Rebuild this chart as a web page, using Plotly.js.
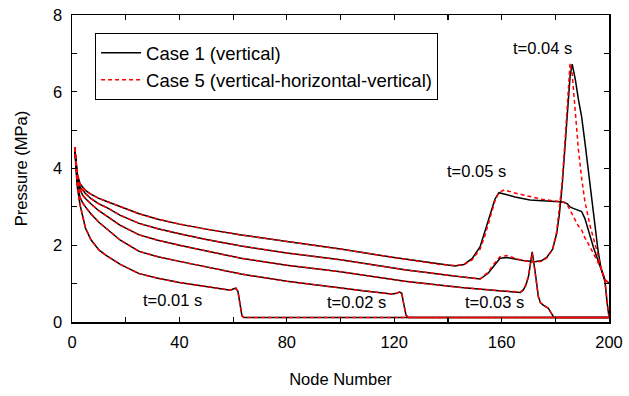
<!DOCTYPE html>
<html>
<head>
<meta charset="utf-8">
<script src="https://cdn.plot.ly/plotly-3.0.1.min.js"></script>
<style>
  html, body { margin: 0; padding: 0; background: #fff; }
  #chart { width: 629px; height: 396px; }
</style>
</head>
<body>
<div id="chart"></div>
<script>
// Pressure profiles along the pipe at five instants, two cases.
// Case 1 = vertical pipe (solid black), Case 5 = vertical-horizontal-vertical (dashed red).

const nodes01 = [1,1.5,2,3,4,5,7,10,13,18,25,32,40,50,56,59,60,61,61.8,62.5,63.3,64,80,120,160,200];
const case1_t01 = [4.55,3.9,3.5,3.05,2.72,2.45,2.15,1.88,1.72,1.5,1.26,1.14,1.03,0.93,0.87,0.83,0.86,0.88,0.8,0.45,0.16,0.12,0.12,0.12,0.12,0.12];
const case5_t01 = [4.55,3.9,3.5,3.05,2.72,2.45,2.15,1.88,1.72,1.5,1.26,1.14,1.03,0.93,0.87,0.83,0.86,0.88,0.8,0.45,0.16,0.12,0.12,0.12,0.12,0.12];

const nodes02 = [1,1.5,2,3,4,5,7,10,13,18,25,32,40,50,63,80,100,110,119,120.5,122,122.8,123.6,124.4,125.2,160,200];
const case1_t02 = [4.55,4.0,3.6,3.25,3.1,3.0,2.82,2.6,2.42,2.13,1.84,1.7,1.58,1.44,1.25,1.06,0.88,0.8,0.73,0.74,0.78,0.75,0.45,0.18,0.12,0.12,0.12];
const case5_t02 = [4.55,4.0,3.6,3.25,3.1,3.0,2.82,2.6,2.42,2.13,1.84,1.7,1.58,1.44,1.25,1.06,0.88,0.8,0.73,0.74,0.78,0.75,0.45,0.18,0.12,0.12,0.12];

const nodes03 = [1,1.5,2,3,4,5,7,10,13,18,25,32,40,50,63,80,100,124,145,160,167,168,169,170,171.4,172.4,173,173.7,174.5,175.5,177.4,178.5,179.3,180,200];
const case1_t03 = [4.55,4.05,3.75,3.45,3.3,3.22,3.08,2.9,2.75,2.52,2.27,2.13,2.0,1.85,1.66,1.48,1.31,1.06,0.9,0.81,0.77,0.83,0.95,1.18,1.83,1.35,0.95,0.66,0.5,0.44,0.36,0.25,0.14,0.12,0.12];
const case5_t03 = [4.55,4.05,3.75,3.45,3.3,3.22,3.08,2.9,2.75,2.52,2.27,2.13,2.0,1.85,1.66,1.48,1.31,1.06,0.9,0.81,0.78,0.84,0.97,1.2,1.8,1.33,0.93,0.65,0.5,0.44,0.36,0.25,0.14,0.12,0.12];

const nodes04 = [1,1.5,2,3,4,5,7,10,13,18,25,32,40,50,63,80,100,124,140,150,152,155,157,159.4,162,165,168,172.4,175,177,179,180.5,181.5,182.5,183.5,184.5,185.5,186.3,187.5,188.6,189.8,191,192.9,194.2,195.9,196.9,198.5,199.3,200];
const case1_t04 = [4.55,4.1,3.8,3.52,3.42,3.35,3.22,3.08,2.98,2.78,2.57,2.43,2.3,2.15,1.98,1.8,1.62,1.36,1.22,1.14,1.12,1.27,1.45,1.66,1.68,1.63,1.6,1.57,1.6,1.7,1.9,2.3,2.8,3.5,4.4,5.5,6.4,6.72,6.3,5.8,5.35,4.7,3.61,2.74,1.875,1.44,1.05,0.5,0.13];
const case5_t04 = [4.55,4.1,3.8,3.52,3.42,3.35,3.22,3.08,2.98,2.78,2.57,2.43,2.3,2.15,1.98,1.8,1.62,1.36,1.22,1.14,1.12,1.3,1.5,1.7,1.73,1.66,1.6,1.56,1.58,1.68,1.9,2.35,2.9,3.6,4.6,5.7,6.75,6.45,5.45,4.5,3.75,3.15,2.52,2.2,1.75,1.44,1.08,0.55,0.13];

const nodes05 = [1,1.5,2,3,4,5,7,10,13,18,25,32,40,50,63,80,100,120,137,142.6,146,149,152,154,155.7,157.5,159,161,165,170.6,175,180,183,184.5,185.5,186.7,187.5,188.6,189.8,191,192.9,194.2,195.9,196.9,198.5,199.3,200];
const case1_t05 = [4.55,4.1,3.85,3.6,3.5,3.43,3.33,3.22,3.14,3.0,2.82,2.68,2.55,2.42,2.27,2.1,1.9,1.68,1.5,1.46,1.5,1.65,1.96,2.4,2.83,3.2,3.37,3.33,3.26,3.18,3.16,3.14,3.13,3.08,3.0,2.96,2.94,2.93,2.88,2.7,2.22,1.95,1.6,1.4,1.1,1.05,1.02];
const case5_t05 = [4.55,4.1,3.85,3.6,3.5,3.43,3.33,3.22,3.14,3.0,2.82,2.68,2.55,2.42,2.27,2.1,1.9,1.68,1.5,1.47,1.5,1.62,1.9,2.3,2.7,3.15,3.38,3.44,3.36,3.26,3.2,3.15,3.13,3.05,2.92,2.74,2.64,2.5,2.4,2.2,1.96,1.78,1.55,1.42,1.12,1.05,1.0];

const timeLabels = ['t=0.01 s','t=0.02 s','t=0.03 s','t=0.04 s','t=0.05 s'];
const labelX = [37.6, 106, 157.5, 175.4, 150.5];
const labelY = [0.57, 0.52, 0.52, 7.14, 3.93];

const caseNames = ['Case 1 (vertical)', 'Case 5 (vertical-horizontal-vertical)'];

const profiles = [
  [nodes01, case1_t01, case5_t01],
  [nodes02, case1_t02, case5_t02],
  [nodes03, case1_t03, case5_t03],
  [nodes04, case1_t04, case5_t04],
  [nodes05, case1_t05, case5_t05]
];

const FONT = 'Liberation Sans, Arial, Helvetica, sans-serif';
const TXT = 16.5;

const traces = [];
// solid black first, dashed red drawn over them
profiles.forEach((p, i) => {
  traces.push({
    x: p[0], y: p[1], type: 'scatter', mode: 'lines',
    name: caseNames[0], legendgroup: 'c1', showlegend: i === 0,
    line: {color: '#000', width: 1.5}
  });
});
profiles.forEach((p, i) => {
  traces.push({
    x: p[0], y: p[2], type: 'scatter', mode: 'lines',
    name: caseNames[1], legendgroup: 'c5', showlegend: i === 0,
    line: {color: '#ff0000', width: 1.5, dash: '4px,3px'}
  });
});

const annotations = timeLabels.map((t, i) => ({
  x: labelX[i], y: labelY[i], xref: 'x', yref: 'y',
  text: t, showarrow: false,
  font: {family: FONT, size: TXT, color: '#000'}
}));

const axisCommon = {
  showgrid: false, zeroline: false,
  showline: true, linecolor: '#000', linewidth: 1.5,
  mirror: 'allticks', ticks: 'inside', ticklen: 5, tickwidth: 1.2, tickcolor: '#000',
  tickfont: {family: FONT, size: TXT, color: '#000'}
};

const layout = {
  width: 629, height: 396,
  margin: {l: 72, r: 20, t: 15, b: 74},
  paper_bgcolor: '#fff', plot_bgcolor: '#fff',
  font: {family: FONT, size: TXT, color: '#000'},
  xaxis: Object.assign({}, axisCommon, {
    range: [0, 200], dtick: 40, tick0: 0, ticklabelstandoff: 5,
    minor: {dtick: 20, ticks: 'inside', ticklen: 5, tickwidth: 1.2, tickcolor: '#000'},
    title: {text: 'Node Number', font: {family: FONT, size: TXT, color: '#000'}, standoff: 23}
  }),
  yaxis: Object.assign({}, axisCommon, {
    range: [0, 8], dtick: 2, tick0: 0, ticklabelstandoff: 5,
    minor: {dtick: 1, ticks: 'inside', ticklen: 5, tickwidth: 1.2, tickcolor: '#000'},
    title: {text: 'Pressure (MPa)', font: {family: FONT, size: TXT, color: '#000'}, standoff: 21}
  }),
  legend: {
    x: 0.043, y: 0.941, xanchor: 'left', yanchor: 'top',
    bgcolor: '#fff', bordercolor: '#000', borderwidth: 1,
    font: {family: FONT, size: 18.5, color: '#000'},
    itemwidth: 40, tracegroupgap: 0
  },
  annotations: annotations,
  showlegend: true
};

Plotly.newPlot('chart', traces, layout, {displayModeBar: false, staticPlot: true});
</script>
</body>
</html>
